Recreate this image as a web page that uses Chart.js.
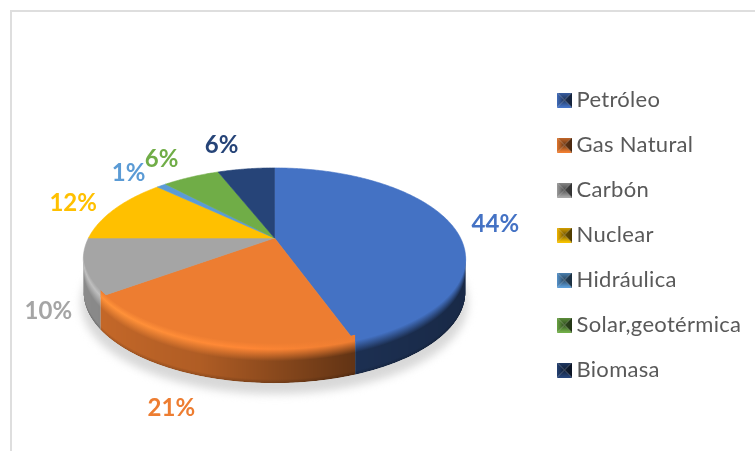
<!DOCTYPE html>
<html><head><meta charset="utf-8">
<style>
html,body{margin:0;padding:0;background:#fff;overflow:hidden}
#wrap{position:relative;width:755px;height:451px}
#frame{position:absolute;left:10px;top:10px;width:770px;height:470px;border:2px solid #dedede;box-sizing:border-box;pointer-events:none}
canvas{position:absolute;left:0;top:0}
</style>
<script src="https://cdn.jsdelivr.net/npm/chart.js@4"></script>
</head><body>
<div id="wrap"><canvas id="c" width="755" height="451"></canvas><div id="frame"></div></div>
<script>
const categories = ["Petróleo","Gas Natural","Carbón","Nuclear","Hidráulica","Solar,geotérmica","Biomasa"];
const shares = [44.49,20.51,10,12,1,6,6];
const colors = ["#4472C4","#ED7D31","#A5A5A5","#FFC000","#5B9BD5","#70AD47","#264478"];

const PERSP = 0.2308, SQUASH = 0.4637, DEPTH = 33, BEVEL_UP = 7;
const LABEL_NUDGE = [[11,3],[-14,36],[6,38],[-13,0],[-14,-4],[-16,-8],[-20,-13]];

function rgb(h){return [1,3,5].map(i=>parseInt(h.substr(i,2),16));}
function shade(h,f){const c=rgb(h).map(v=>Math.max(0,Math.min(255,Math.round(v*f))));return `rgb(${c})`;}
function project(arc,angle,r){
  const u=Math.cos(angle)*r, v=Math.sin(angle)*r, d=1-PERSP*v;
  return [arc.x+arc.outerRadius*u/d, arc.y+arc.outerRadius*SQUASH*v/d];
}
function rimPoints(arc,a0,a1){
  const n=Math.max(2,Math.ceil((a1-a0)/0.01)), pts=[];
  for(let i=0;i<=n;i++) pts.push(project(arc,a0+(a1-a0)*i/n,1));
  return pts;
}
function wallLight(x){
  const s=[[83,.84],[200,.74],[350,.42],[466,.36]];
  if(x<=s[0][0])return s[0][1];
  for(let i=1;i<s.length;i++) if(x<=s[i][0]){
    const t=(x-s[i-1][0])/(s[i][0]-s[i-1][0]);return s[i-1][1]+(s[i][1]-s[i-1][1])*t;}
  return s[s.length-1][1];
}
function drawWall(ctx,arc,hex){
  const lo=Math.asin(PERSP), hi=Math.PI-lo;
  const a0=Math.max(arc.startAngle,lo), a1=Math.min(arc.endAngle,hi);
  if(a1<=a0) return;
  const pts=rimPoints(arc,a0,a1);
  ctx.save();
  ctx.beginPath();
  pts.forEach((p,j)=>{j?ctx.lineTo(p[0],p[1]-BEVEL_UP):ctx.moveTo(p[0],p[1]-BEVEL_UP);});
  for(let j=pts.length-1;j>=0;j--)ctx.lineTo(pts[j][0],pts[j][1]+DEPTH);
  ctx.closePath();ctx.clip();
  const xs=pts.map(p=>p[0]);
  const minX=Math.floor(Math.min(...xs)),maxX=Math.ceil(Math.max(...xs));
  const span=BEVEL_UP+DEPTH;
  for(let x=minX;x<maxX;x++){
    let y=-1e9;
    for(let j=1;j<pts.length;j++){
      const a=pts[j-1],b=pts[j],l=Math.min(a[0],b[0]),r=Math.max(a[0],b[0]);
      if(x+0.5>=l&&x+0.5<=r){y=Math.max(y,a[1]+(b[1]-a[1])*(x+0.5-a[0])/((b[0]-a[0])||1));}
    }
    if(y<-1e8) y=x+0.5<pts[0][0]===pts[0][0]<pts[pts.length-1][0]?pts[0][1]:pts[pts.length-1][1];
    const w=wallLight(x), front=Math.max(0,Math.min(1,(360-x)/240)), top=1+0.16*front;
    const g=ctx.createLinearGradient(0,y-BEVEL_UP,0,y+DEPTH);
    g.addColorStop(0,shade(hex,1));
    g.addColorStop((BEVEL_UP-1)/span,shade(hex,top));
    g.addColorStop((BEVEL_UP+11)/span,shade(hex,w));
    g.addColorStop((BEVEL_UP+DEPTH-4)/span,shade(hex,w));
    g.addColorStop(1,shade(hex,w*0.82));
    ctx.fillStyle=g;ctx.fillRect(x,y-BEVEL_UP,1,span);
  }
  ctx.restore();
}
const pie3d = {
  id:'pie3d',
  afterLayout(chart){
    const l=chart.legend;l.top-=3;l.bottom-=3;l.left+=1.5;l.right+=1.5;
  },
  beforeDatasetDraw(chart){
    const ctx=chart.ctx, arcs=chart.getDatasetMeta(0).data, ref=arcs[0];
    const full=rimPoints(ref,0,Math.PI*2);
    ctx.save();
    ctx.filter='blur(4px)';ctx.fillStyle='#d8d8d8';ctx.beginPath();
    full.forEach((p,i)=>{const x=p[0]+(p[0]-ref.x)*0.012,y=p[1]+DEPTH+11;i?ctx.lineTo(x,y):ctx.moveTo(x,y);});
    ctx.closePath();ctx.fill();ctx.restore();
    arcs.forEach((arc,i)=>{
      const pts=rimPoints(arc,arc.startAngle,arc.endAngle);
      ctx.fillStyle=colors[i];ctx.beginPath();ctx.moveTo(arc.x,arc.y);
      pts.forEach(p=>ctx.lineTo(p[0],p[1]));ctx.closePath();ctx.fill();
      ctx.strokeStyle=colors[i];ctx.lineWidth=0.6;ctx.stroke();
    });
    arcs.forEach((arc,i)=>drawWall(ctx,arc,colors[i]));
    return false;
  },
  beforeDraw(chart){chart.ctx.letterSpacing='0.3px';},
  afterDatasetsDraw(chart){
    const ctx=chart.ctx, arcs=chart.getDatasetMeta(0).data;
    ctx.save();ctx.letterSpacing='0px';ctx.font='bold 24px Lato';ctx.textAlign='center';ctx.textBaseline='middle';
    arcs.forEach((arc,i)=>{
      const p=project(arc,(arc.startAngle+arc.endAngle)/2,1.2);
      ctx.fillStyle=colors[i];
      ctx.fillText(Math.round(shares[i])+'%',p[0]+LABEL_NUDGE[i][0],p[1]+LABEL_NUDGE[i][1]);
    });
    ctx.restore();
  }
};
function icon(hex){
  const c=document.createElement('canvas');c.width=15;c.height=15;const g=c.getContext('2d');
  const tri=(a,b,f0,f1,gx0,gy0,gx1,gy1)=>{
    const lg=g.createLinearGradient(gx0,gy0,gx1,gy1);lg.addColorStop(0,shade(hex,f0));lg.addColorStop(1,shade(hex,f1));
    g.fillStyle=lg;g.beginPath();g.moveTo(a[0],a[1]);g.lineTo(b[0],b[1]);g.lineTo(7.5,7.5);g.closePath();g.fill();};
  tri([0,0],[15,0],0.85,0.45,0,0,0,7.5);
  tri([0,15],[15,15],1.05,0.5,0,15,0,7.5);
  tri([0,0],[0,15],0.95,0.45,0,0,7.5,0);
  tri([15,0],[15,15],0.3,0.42,15,0,7.5,0);
  return c;
}
new Chart(document.getElementById('c'),{
  type:'doughnut',
  data:{labels:categories,datasets:[{data:shares,backgroundColor:colors,radius:186,cutout:0,borderWidth:0}]},
  options:{
    responsive:false,animation:false,rotation:0,
    layout:{padding:{top:25,right:10,left:10}},
    plugins:{
      tooltip:{enabled:false},
      legend:{position:'right',labels:{
        usePointStyle:true,boxWidth:2,padding:23,color:'#595959',
        font:{family:'Lato',size:22},
        generateLabels(){return categories.map((t,i)=>({text:t,pointStyle:icon(colors[i]),fontColor:'#595959',index:i,lineWidth:0,strokeStyle:'transparent',fillStyle:colors[i]}));}
      }}
    }
  },
  plugins:[pie3d]
});
</script>
</body></html>
